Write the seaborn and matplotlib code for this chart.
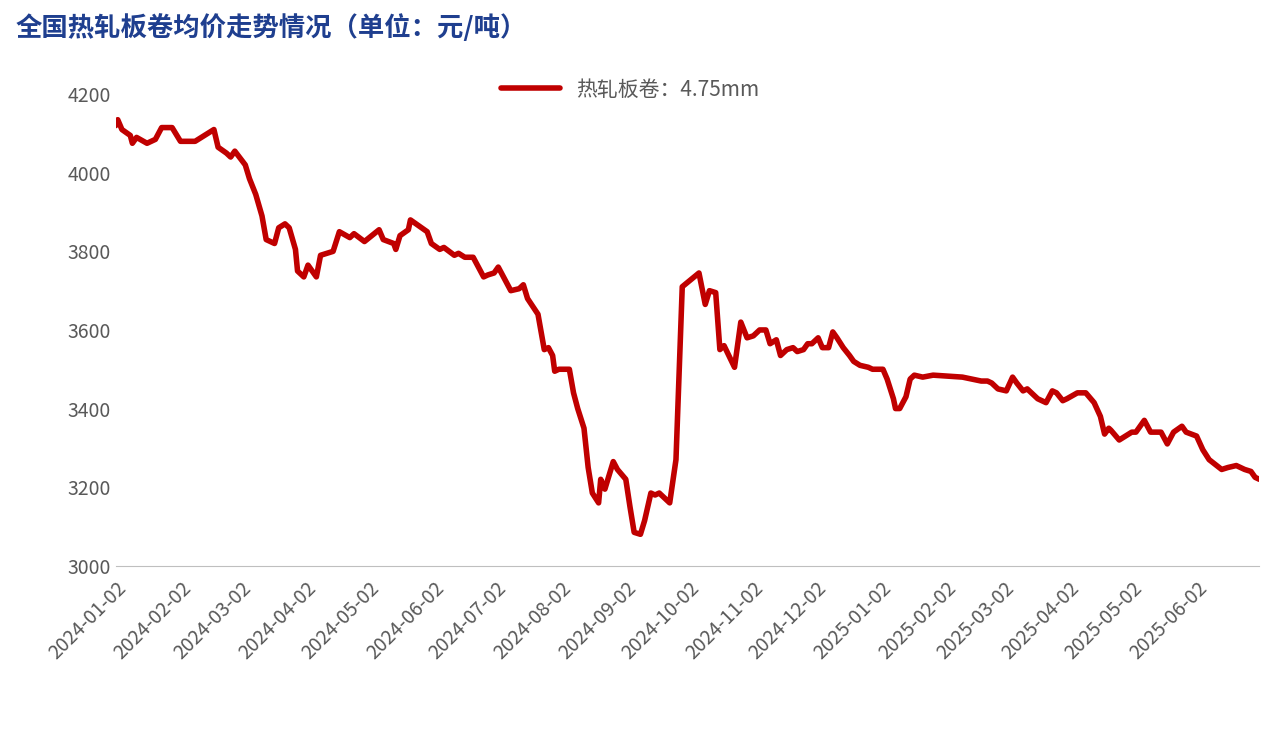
import matplotlib
matplotlib.use('Agg')
import matplotlib.pyplot as plt
import seaborn as sns
import pandas as pd

# days since 2024-01-02 and price (yuan/ton)
day_offsets = [0, 1, 3, 7, 8, 10, 15, 19, 22, 27, 31, 38, 47, 49, 53, 55, 57, 62, 64, 67,
               70, 72, 76, 78, 81, 83, 86, 87, 90, 92, 96, 98, 101, 104, 107, 112, 114, 119, 126, 128,
               133, 134, 136, 140, 141, 145, 149, 151, 155, 157, 162, 164, 167, 171, 176, 178, 181, 183, 186, 189,
               193, 195, 197, 202, 205, 207, 209, 210, 212, 217, 219, 221, 224, 226, 228, 231, 232, 234, 238, 240,
               244, 246, 248, 251, 253, 256, 258, 260, 262, 265, 268, 271, 279, 282, 284, 287, 289, 291, 296, 299,
               302, 305, 308, 311, 313, 316, 318, 321, 324, 326, 329, 331, 333, 336, 338, 341, 343, 345, 348, 351,
               353, 356, 360, 362, 367, 369, 372, 373, 375, 378, 380, 382, 386, 391, 405, 414, 417, 419, 422, 426,
               429, 431, 434, 436, 441, 445, 448, 450, 453, 455, 460, 464, 468, 471, 473, 475, 476, 480, 483, 486,
               488, 492, 495, 500, 503, 506, 510, 512, 517, 520, 523, 529, 532, 536, 540, 543, 545, 547]
prices = [4120, 4135, 4110, 4095, 4075, 4090, 4075, 4085, 4115, 4115, 4080, 4080, 4110, 4065, 4050, 4040, 4055, 4020, 3985, 3945,
          3890, 3830, 3820, 3860, 3870, 3860, 3805, 3750, 3735, 3765, 3735, 3790, 3795, 3800, 3850, 3835, 3845, 3825, 3855, 3830,
          3820, 3805, 3840, 3855, 3880, 3865, 3850, 3820, 3805, 3810, 3790, 3795, 3785, 3785, 3735, 3740, 3745, 3760, 3730, 3700,
          3705, 3715, 3680, 3640, 3550, 3555, 3535, 3495, 3500, 3500, 3440, 3400, 3350, 3250, 3185, 3160, 3220, 3195, 3265, 3245,
          3220, 3150, 3085, 3080, 3115, 3185, 3180, 3185, 3175, 3160, 3270, 3710, 3745, 3665, 3700, 3695, 3550, 3560, 3505, 3620,
          3580, 3585, 3600, 3600, 3565, 3575, 3535, 3550, 3555, 3545, 3550, 3565, 3565, 3580, 3555, 3555, 3595, 3580, 3555, 3535,
          3520, 3510, 3505, 3500, 3500, 3475, 3425, 3400, 3400, 3430, 3475, 3485, 3480, 3485, 3480, 3470, 3470, 3465, 3450, 3445,
          3480, 3465, 3445, 3450, 3425, 3415, 3445, 3440, 3420, 3425, 3440, 3440, 3415, 3380, 3335, 3350, 3345, 3320, 3330, 3340,
          3340, 3370, 3340, 3340, 3310, 3340, 3355, 3340, 3330, 3295, 3270, 3245, 3250, 3255, 3245, 3240, 3225, 3220]
tick_labels = ['2024-01-02', '2024-02-02', '2024-03-02', '2024-04-02', '2024-05-02', '2024-06-02',
               '2024-07-02', '2024-08-02', '2024-09-02', '2024-10-02', '2024-11-02', '2024-12-02',
               '2025-01-02', '2025-02-02', '2025-03-02', '2025-04-02', '2025-05-02', '2025-06-02']

start = pd.Timestamp('2024-01-02')
df = pd.DataFrame({'date': start + pd.to_timedelta(day_offsets, unit='D'), 'price': prices})

sns.set_style('white')
plt.rcParams['font.family'] = ['Noto Sans CJK SC', 'DejaVu Sans']

fig = plt.figure(figsize=(12.85, 7.3), dpi=100)
ax = fig.add_axes([0.09, 0.225, 0.89, 0.646])
sns.lineplot(data=df, x='date', y='price', ax=ax, color='#C00000', linewidth=4,
             label='热轧板卷：4.75mm')

ax.set_xlim(start, df['date'].iloc[-1])
ax.set_ylim(3000, 4200)
ax.set_yticks(range(3000, 4201, 200))
ax.set_xticks(pd.to_datetime(tick_labels))
ax.set_xticklabels(tick_labels, rotation=45, ha='right', rotation_mode='anchor')
ax.tick_params(axis='x', colors='#595959', labelsize=14, length=5, color='#BFBFBF')
ax.tick_params(axis='y', colors='#595959', labelsize=14, length=0)
ax.set_xlabel('')
ax.set_ylabel('')
for s in ['top', 'right', 'left']:
    ax.spines[s].set_visible(False)
ax.spines['bottom'].set_color('#BFBFBF')

leg = ax.legend(loc='center', bbox_to_anchor=(0.45, 1.01), frameon=False,
                fontsize=15, handlelength=2.8)
for t in leg.get_texts():
    t.set_color('#595959')

fig.text(0.012, 0.962, '全国热轧板卷均价走势情况（单位：元/吨）', fontsize=19,
         fontweight='bold', color='#1F3F8F', va='center', ha='left')

fig.savefig('out.png', dpi=100)
